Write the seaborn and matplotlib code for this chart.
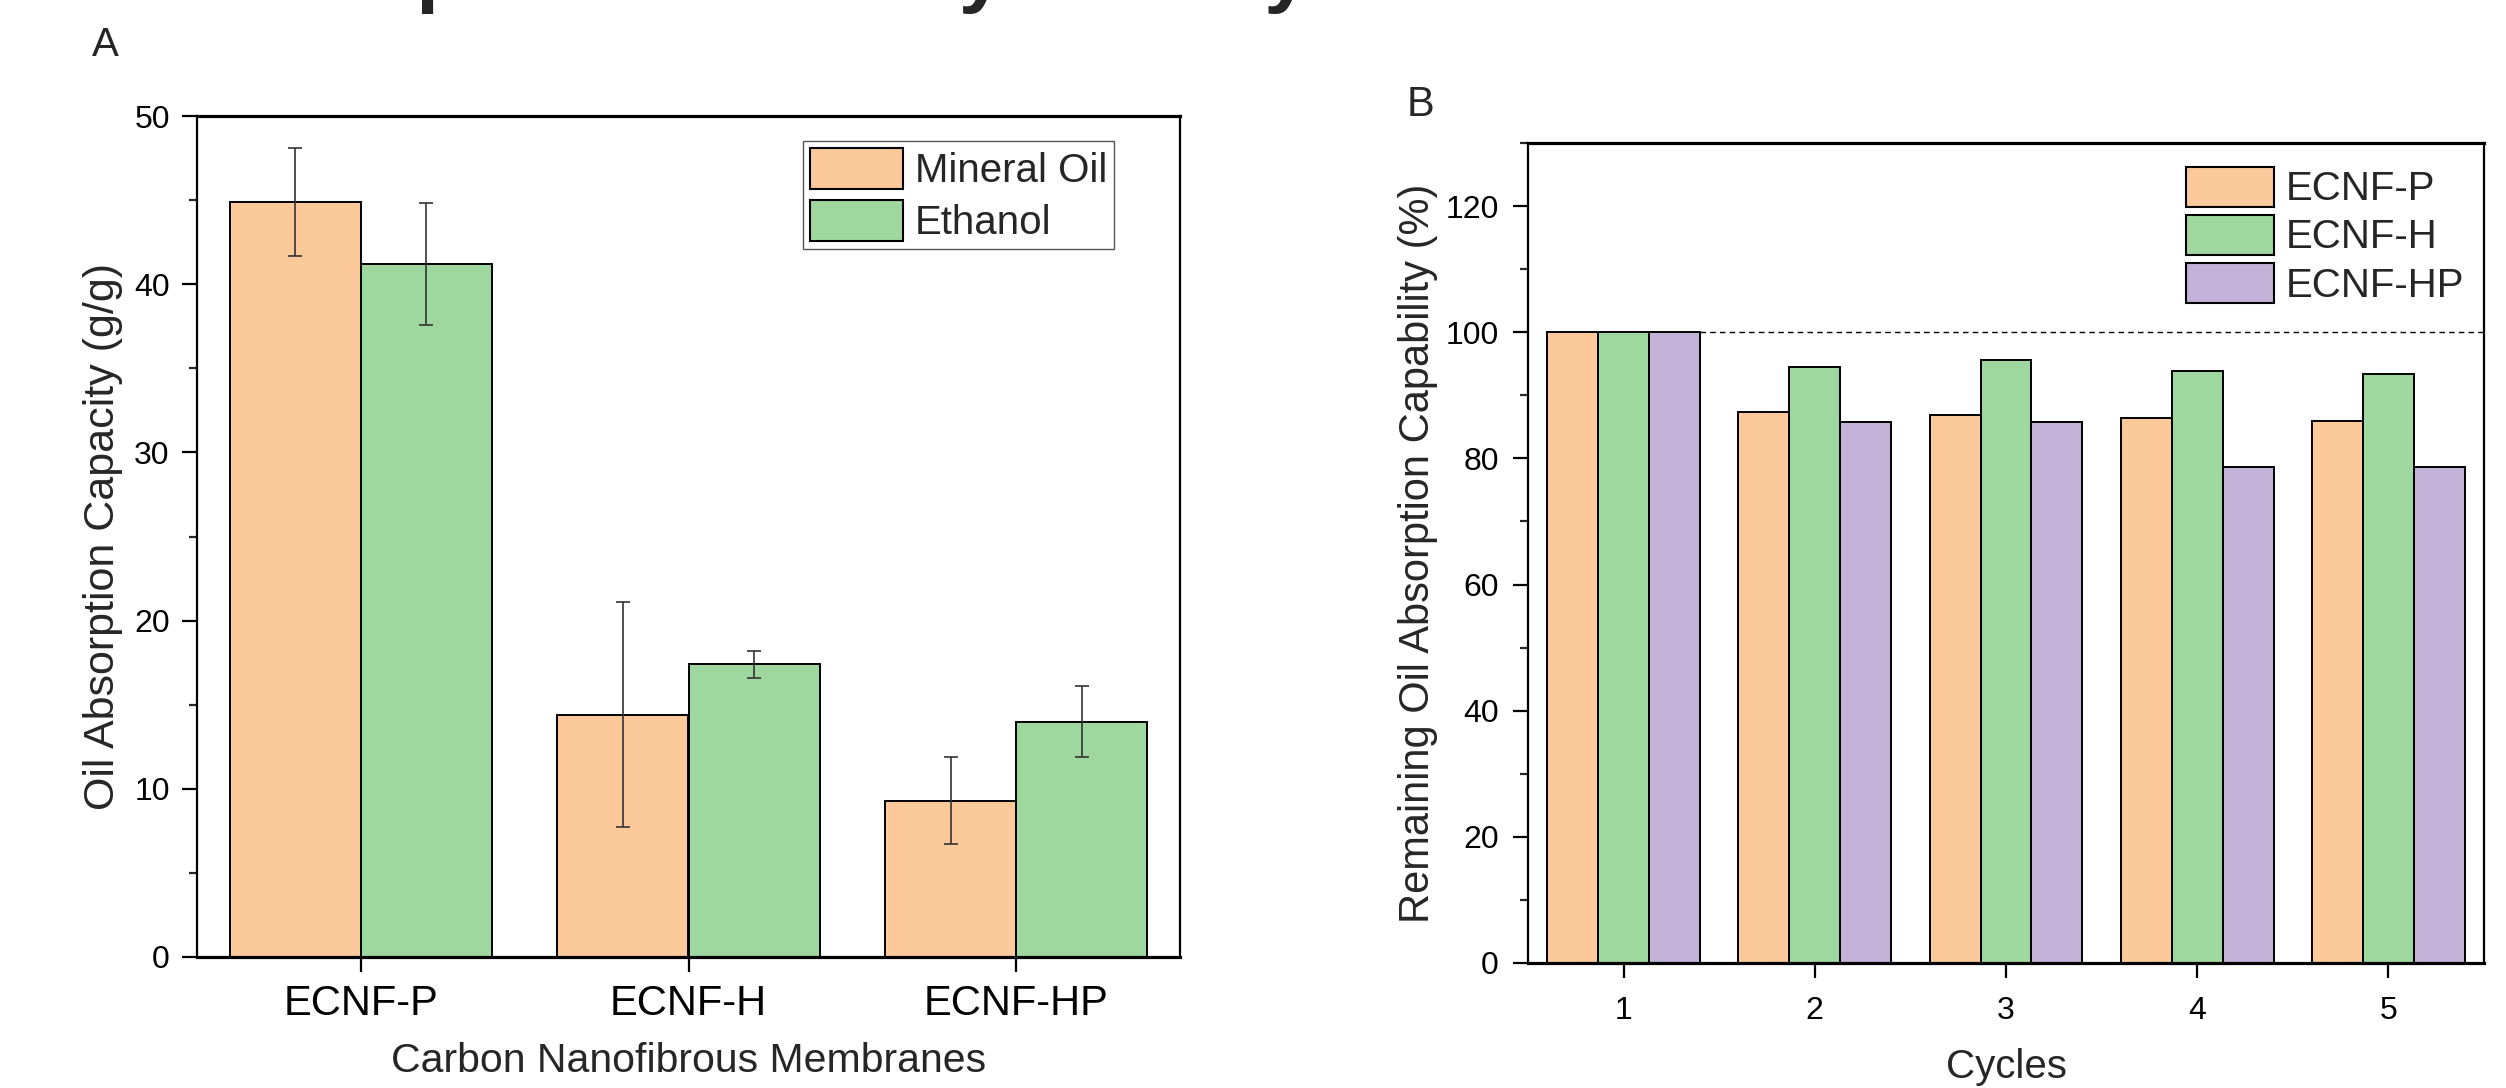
import numpy as np
import pandas as pd
import seaborn as sns
import matplotlib.pyplot as plt
import matplotlib.patches as mpatches
from matplotlib.ticker import MultipleLocator

# panel A: oil absorption capacity (g/g), mean and error
membranes = ["ECNF-P", "ECNF-H", "ECNF-HP"]
solvents = ["Mineral Oil", "Ethanol"]
mineral_oil = [44.9, 14.4, 9.3]
mineral_oil_err = [3.2, 6.7, 2.6]
ethanol = [41.2, 17.4, 14.0]
ethanol_err = [3.6, 0.8, 2.1]

# panel B: remaining absorption capability (%) per cycle
cycles = ["1", "2", "3", "4", "5"]
samples = ["ECNF-P", "ECNF-H", "ECNF-HP"]
ecnf_p = [100, 87.4, 86.9, 86.4, 85.9]
ecnf_h = [100, 94.5, 95.6, 93.9, 93.3]
ecnf_hp = [100, 85.7, 85.7, 78.6, 78.6]

colors = ["#FBC99A", "#9FD89E", "#C2B2D7"]

sns.set_style("ticks")
plt.rcParams["font.family"] = ["Liberation Sans", "DejaVu Sans"]

W, H = 2506, 1088
fig = plt.figure(figsize=(W / 100, H / 100), dpi=100)


def px_axes(left, top, right, bottom):
    return fig.add_axes([left / W, 1 - bottom / H, (right - left) / W, (bottom - top) / H])


def style_axes(ax, xpad, ypad, xsize, ysize):
    for side in ["left", "right"]:
        ax.spines[side].set_linewidth(1.6)
    for side in ["top", "bottom"]:
        ax.spines[side].set_linewidth(2.3)
    for s in ax.spines.values():
        s.set_color("black")
        s.set_visible(True)
    ax.tick_params(axis="x", which="major", direction="out", length=11, width=1.6,
                   pad=xpad, labelsize=xsize, colors="black")
    ax.tick_params(axis="y", which="major", direction="out", length=11, width=1.6,
                   pad=ypad, labelsize=ysize, colors="black")
    ax.tick_params(axis="y", which="minor", direction="out", length=5.5, width=1.6)
    ax.tick_params(axis="x", which="minor", bottom=False)
    ax.xaxis.label.set_va("center")
    ax.yaxis.label.set_va("center")


# ---------- panel A ----------
dfa = pd.DataFrame({
    "membrane": membranes * 2,
    "solvent": [solvents[0]] * 3 + [solvents[1]] * 3,
    "value": mineral_oil + ethanol,
})
errs_a = [mineral_oil_err, ethanol_err]

ax1 = px_axes(197, 116, 1180, 957)
sns.barplot(data=dfa, x="membrane", y="value", hue="solvent", order=membranes,
            hue_order=solvents, palette=colors[:2], width=0.8, errorbar=None,
            edgecolor="black", linewidth=1.4, saturation=1, ax=ax1, legend=False)
for cont, err in zip(ax1.containers, errs_a):
    xs = [b.get_x() + b.get_width() / 2 for b in cont]
    ys = [b.get_height() for b in cont]
    ax1.errorbar(xs, ys, yerr=err, fmt="none", ecolor="#333333", elinewidth=1.2,
                 capsize=5.2, capthick=1.2, zorder=3)

ax1.set_xlim(-0.5, 2.5)
ax1.set_ylim(0, 50)
ax1.yaxis.set_major_locator(MultipleLocator(10))
ax1.yaxis.set_minor_locator(MultipleLocator(5))
ax1.set_xlabel("Carbon Nanofibrous Membranes", fontsize=29.5)
ax1.set_ylabel("Oil Absorption Capacity (g/g)", fontsize=31)
style_axes(ax1, xpad=8.5, ypad=8.6, xsize=30, ysize=23)
ax1.xaxis.set_label_coords(0.5, -0.124)
ax1.yaxis.set_label_coords(-0.096, 0.5)

handles_a = [mpatches.Patch(facecolor=c, edgecolor="black", linewidth=1.5) for c in colors[:2]]
leg = ax1.legend(handles_a, solvents, loc="upper right", bbox_to_anchor=(0.933, 0.970),
                 borderaxespad=0, fontsize=29, frameon=True, fancybox=False,
                 edgecolor="#555555", framealpha=1, borderpad=0.17, handlelength=2.3,
                 handleheight=1.2, handletextpad=0.3, labelspacing=0.24)
leg.get_frame().set_linewidth(1.0)

# ---------- panel B ----------
dfb = pd.DataFrame({
    "cycle": cycles * 3,
    "sample": [samples[0]] * 5 + [samples[1]] * 5 + [samples[2]] * 5,
    "value": ecnf_p + ecnf_h + ecnf_hp,
})

ax2 = px_axes(1528, 143, 2484, 963)
sns.barplot(data=dfb, x="cycle", y="value", hue="sample", order=cycles,
            hue_order=samples, palette=colors, width=0.8, errorbar=None,
            edgecolor="black", linewidth=1.4, saturation=1, ax=ax2, legend=False)
first = ax2.containers[-1][0]
ax2.hlines(100, first.get_x() + first.get_width(), len(cycles) - 0.5,
           colors="black", linestyles=(0, (4, 3)), linewidth=1.0, zorder=0.5)

ax2.set_xlim(-0.5, 4.5)
ax2.set_ylim(0, 130)
ax2.yaxis.set_major_locator(MultipleLocator(20))
ax2.yaxis.set_minor_locator(MultipleLocator(10))
ax2.set_xlabel("Cycles", fontsize=29)
ax2.set_ylabel("Remaining Oil Absorption Capability (%)", fontsize=30)
style_axes(ax2, xpad=12.5, ypad=10, xsize=23, ysize=23)
ax2.xaxis.set_label_coords(0.5, -0.127)
ax2.yaxis.set_label_coords(-0.115, 0.5)

handles_b = [mpatches.Patch(facecolor=c, edgecolor="black", linewidth=1.5) for c in colors]
ax2.legend(handles_b, samples, loc="upper left", bbox_to_anchor=(0.688, 0.971),
           borderaxespad=0, borderpad=0, fontsize=29, frameon=False,
           handlelength=2.2, handleheight=1.15, handletextpad=0.28, labelspacing=0.16)

# panel letters
fig.text(105 / W, 1 - 45 / H, "A", fontsize=29, ha="center", va="center")
fig.text(1420 / W, 1 - 105 / H, "B", fontsize=30, ha="center", va="center")

# title mostly cut off at the top edge, only descenders show
renderer = fig.canvas.get_renderer()
probe = fig.text(0, 0, "Oil Absor", fontsize=59, fontweight="bold")
prefix_w = probe.get_window_extent(renderer).width
probe.remove()
fig.text((416 - prefix_w) / W, 1 + 3 / H, "Oil Absorption and Recyclability",
         fontsize=59, fontweight="bold", ha="left", va="baseline")

fig.savefig("out.png", dpi=100)
